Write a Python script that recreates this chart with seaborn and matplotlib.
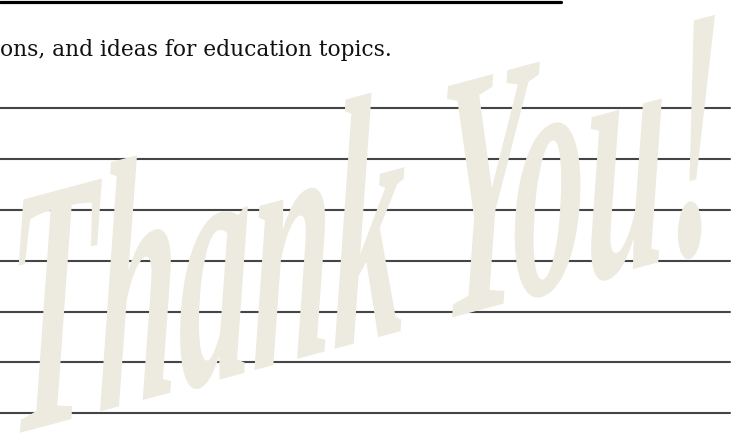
import numpy as np
import pandas as pd
import matplotlib
matplotlib.use('Agg')
import matplotlib.pyplot as plt
import matplotlib.patheffects as pe
from matplotlib.transforms import Affine2D
import seaborn as sns

sns.set_style('white')

# page is measured in pixels, origin top-left
W, H = 735, 438

heading = 'ons, and ideas for education topics.'
watermark = 'Thank You!'

# writing rules (y of each rule) and their x extent
rule_rows = [108, 159, 210, 261, 312, 362, 413]
rule_start, rule_end = 0, 730
# heavy rule at the very top of the crop
top_rule_row = 1.5
top_rule_end = 561


class Stretch(pe.AbstractPathEffect):
    """squash/stretch + shear glyphs so plain font looks like the tall brush script"""

    def __init__(self, sx, sy, shear):
        super().__init__()
        self.m = Affine2D(np.array([[sx, 0, 0], [shear * sx, sy, 0], [0, 0, 1]]))

    def draw_path(self, renderer, gc, tpath, affine, rgbFace=None):
        renderer.draw_path(gc, tpath, self.m + affine, rgbFace)


fig = plt.figure(figsize=(W / 100, H / 100), dpi=100)
ax = fig.add_axes([0, 0, 1, 1])

# 1 - the faded "Thank You!" in the background
fig.text(8 / W, 2 / H, watermark, fontsize=72, family='Liberation Serif',
         style='italic', weight='bold', color='#edebe0', ha='left', va='baseline',
         zorder=0, path_effects=[Stretch(1.46, 3.55, 0.267)])

# 2 - the rules
rules = pd.DataFrame({
    'rule': np.repeat(range(len(rule_rows)), 2),
    'x': [rule_start, rule_end] * len(rule_rows),
    'y': np.repeat(rule_rows, 2),
})
sns.lineplot(data=rules, x='x', y='y', units='rule', estimator=None,
             color='#454545', linewidth=1.5, ax=ax, zorder=2)

top = pd.DataFrame({'x': [0, top_rule_end], 'y': [top_rule_row] * 2})
sns.lineplot(data=top, x='x', y='y', color='black', linewidth=2.3, ax=ax, zorder=2)
ax.set_xlim(0, W)
ax.set_ylim(H, 0)
ax.axis('off')

# 3 - the sentence tail
ax.text(392, 56, heading, fontsize=15.7, family='DejaVu Serif',
        color='#111111', ha='right', va='baseline', zorder=3)

fig.savefig('out.png', dpi=100)
